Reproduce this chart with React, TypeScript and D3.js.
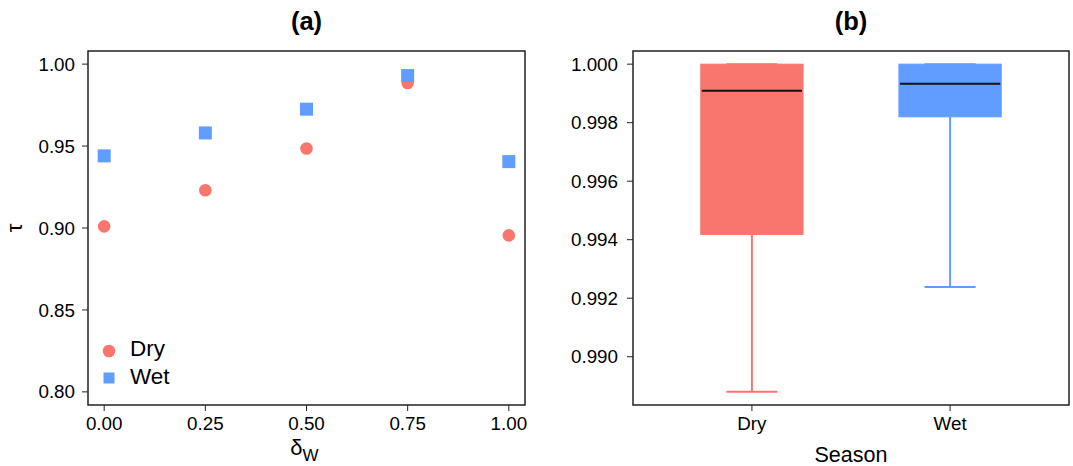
import * as d3 from "d3";

const W = 1073;
const H = 466;
const FONT = "'Liberation Sans', Arial, sans-serif";

const RED = "#F8766D";
const BLUE = "#619CFF";

// panel (a): tau vs delta_W
const deltaW = [0, 0.25, 0.5, 0.75, 1.0];
const tauDry = [0.901, 0.923, 0.9485, 0.9885, 0.8955];
const tauWet = [0.944, 0.958, 0.9725, 0.993, 0.9405];
const xTicksA = [0, 0.25, 0.5, 0.75, 1.0];
const yTicksA = [0.8, 0.85, 0.9, 0.95, 1.0];

// panel (b): season boxplots
const seasons = ["Dry", "Wet"];
const seasonColors = [RED, BLUE];
const boxMin = [0.9888, 0.99238];
const boxQ1 = [0.99418, 0.9982];
const boxMed = [0.99909, 0.99933];
const boxQ3 = [1.0, 1.0];
const boxMax = [1.0, 1.0];
const yTicksB = [0.99, 0.992, 0.994, 0.996, 0.998, 1.0];

const A = { left: 88, right: 525, top: 51, bottom: 405 };
const B = { left: 633, right: 1069, top: 51, bottom: 405 };

export default function App() {
  const xA = d3.scaleLinear().domain([-0.04, 1.04]).range([A.left, A.right]);
  const yA = d3.scaleLinear().domain([0.792, 1.008]).range([A.bottom, A.top]);

  const xB = d3.scaleLinear().domain([0.4, 2.6]).range([B.left, B.right]);
  const yB = d3.scaleLinear().domain([0.98835, 1.00045]).range([B.bottom, B.top]);
  const boxHalf = 0.258;
  const capHalf = 0.129;

  const tickFont = 18.8;

  return (
    <svg
      width={W}
      height={H}
      style={{ position: "absolute", left: 0, top: 0, background: "#fff" }}
      fontFamily={FONT}
    >
      {/* ── Panel (a) ─────────────────────────────────────────── */}
      <text x={(A.left + A.right) / 2} y={30} textAnchor="middle" fontSize={25.5} fontWeight="bold">
        (a)
      </text>

      {deltaW.map((d, i) => (
        <circle key={"dry" + i} cx={xA(d)} cy={yA(tauDry[i])} r={6.3} fill={RED} />
      ))}
      {deltaW.map((d, i) => (
        <rect key={"wet" + i} x={xA(d) - 6.5} y={yA(tauWet[i]) - 6.5} width={13} height={13} fill={BLUE} />
      ))}

      <rect
        x={A.left} y={A.top} width={A.right - A.left} height={A.bottom - A.top}
        fill="none" stroke="#222" strokeWidth={1.5}
      />

      {yTicksA.map(t => (
        <g key={"ya" + t}>
          <line x1={A.left - 6} x2={A.left} y1={yA(t)} y2={yA(t)} stroke="#222" />
          <text x={A.left - 13} y={yA(t)} dy="0.35em" textAnchor="end" fontSize={tickFont}>
            {t.toFixed(2)}
          </text>
        </g>
      ))}
      {xTicksA.map(t => (
        <g key={"xa" + t}>
          <line x1={xA(t)} x2={xA(t)} y1={A.bottom} y2={A.bottom + 6} stroke="#222" />
          <text x={xA(t)} y={430} textAnchor="middle" fontSize={tickFont}>
            {t.toFixed(2)}
          </text>
        </g>
      ))}

      <text
        x={0} y={0} fontSize={22} textAnchor="middle"
        transform={`translate(22,${(A.top + A.bottom) / 2}) rotate(-90)`}
      >
        τ
      </text>
      <text x={(A.left + A.right) / 2 - 2} y={455} textAnchor="middle" fontSize={22}>
        δ<tspan fontSize={17} dy={6}>W</tspan>
      </text>

      {/* legend */}
      <circle cx={109} cy={351} r={6.3} fill={RED} />
      <text x={130} y={356} fontSize={22.5}>Dry</text>
      <rect x={109 - 5.5} y={378 - 5.5} width={11} height={11} fill={BLUE} />
      <text x={130} y={384} fontSize={22.5}>Wet</text>

      {/* ── Panel (b) ─────────────────────────────────────────── */}
      <text x={(B.left + B.right) / 2} y={30} textAnchor="middle" fontSize={25.5} fontWeight="bold">
        (b)
      </text>

      {seasons.map((s, i) => {
        const cx = xB(i + 1);
        const c = seasonColors[i];
        return (
          <g key={s}>
            <line x1={cx} x2={cx} y1={yB(boxQ1[i])} y2={yB(boxMin[i])} stroke={c} strokeWidth={2} />
            <line x1={xB(i + 1 - capHalf)} x2={xB(i + 1 + capHalf)} y1={yB(boxMin[i])} y2={yB(boxMin[i])} stroke={c} strokeWidth={2} />
            <line x1={cx} x2={cx} y1={yB(boxQ3[i])} y2={yB(boxMax[i])} stroke={c} strokeWidth={2} />
            <line x1={xB(i + 1 - capHalf)} x2={xB(i + 1 + capHalf)} y1={yB(boxMax[i])} y2={yB(boxMax[i])} stroke={c} strokeWidth={2} />
            <rect
              x={xB(i + 1 - boxHalf)} y={yB(boxQ3[i])}
              width={xB(i + 1 + boxHalf) - xB(i + 1 - boxHalf)}
              height={yB(boxQ1[i]) - yB(boxQ3[i])}
              fill={c} stroke={c} strokeWidth={1}
            />
            <line
              x1={xB(i + 1 - boxHalf) + 1} x2={xB(i + 1 + boxHalf) - 1}
              y1={yB(boxMed[i])} y2={yB(boxMed[i])} stroke="#111" strokeWidth={2}
            />
          </g>
        );
      })}

      <rect
        x={B.left} y={B.top} width={B.right - B.left} height={B.bottom - B.top}
        fill="none" stroke="#222" strokeWidth={1.5}
      />

      {yTicksB.map(t => (
        <g key={"yb" + t}>
          <line x1={B.left - 6} x2={B.left} y1={yB(t)} y2={yB(t)} stroke="#222" />
          <text x={B.left - 15} y={yB(t)} dy="0.35em" textAnchor="end" fontSize={tickFont}>
            {t.toFixed(3)}
          </text>
        </g>
      ))}
      {seasons.map((s, i) => (
        <g key={"xb" + s}>
          <line x1={xB(i + 1)} x2={xB(i + 1)} y1={B.bottom} y2={B.bottom + 6} stroke="#222" />
          <text x={xB(i + 1)} y={430} textAnchor="middle" fontSize={tickFont}>
            {s}
          </text>
        </g>
      ))}
      <text x={(B.left + B.right) / 2} y={462} textAnchor="middle" fontSize={21.5}>
        Season
      </text>
    </svg>
  );
}
